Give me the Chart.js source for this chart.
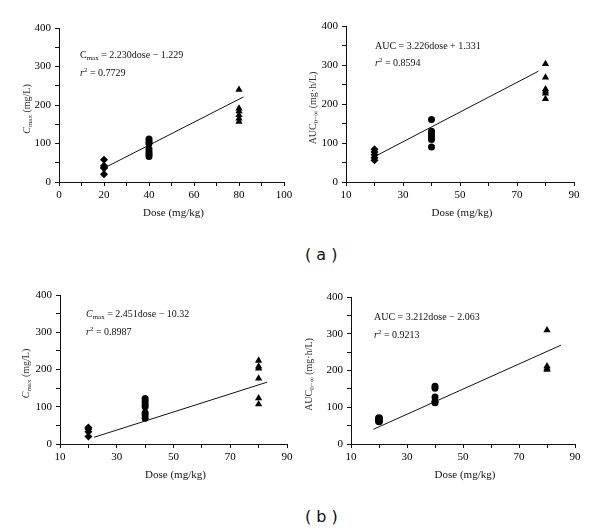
<!DOCTYPE html>
<html>
<head>
<meta charset="utf-8">
<script src="https://cdn.jsdelivr.net/npm/chart.js@4.4.0/dist/chart.umd.min.js"></script>
<style>
  body { margin: 0; background: #fff; }
  #wrap { position: relative; width: 600px; height: 532px; overflow: hidden; background: #fff; }
  canvas { position: absolute; }
  .tag { position: absolute; font: 16px "DejaVu Sans", Verdana, sans-serif; color: #111; line-height: 1; }
</style>
</head>
<body>
<div id="wrap">
  <canvas id="aCmax" width="300" height="235" style="left:0;top:0"></canvas>
  <canvas id="aAuc" width="300" height="235" style="left:300px;top:0"></canvas>
  <canvas id="bCmax" width="300" height="235" style="left:0;top:268px"></canvas>
  <canvas id="bAuc" width="300" height="235" style="left:300px;top:268px"></canvas>
  <div class="tag" style="left:305px;top:247px">( a )</div>
  <div class="tag" style="left:305px;top:509px">( b )</div>
</div>
<script>
const serif = '"Liberation Serif", "Times New Roman", serif';

// (a) Cmax vs dose
const aCmax20 = [58, 42, 38, 36, 20];
const aCmax40 = [112, 106, 100, 86, 78, 72, 66];
const aCmax80 = [240, 191, 184, 174, 165, 157];
const aCmaxFitDose = [20, 82];
const aCmaxFitVal = [36, 221];

// (a) AUC vs dose
const aAuc20 = [84, 77, 70, 62, 56];
const aAuc40 = [160, 130, 123, 116, 109, 90];
const aAuc80 = [303, 268, 238, 232, 227, 213];
const aAucFitDose = [20, 77.5];
const aAucFitVal = [65, 284];

// (b) Cmax vs dose
const bCmax20 = [44, 40, 33, 20];
const bCmax40 = [122, 114, 106, 100, 84, 78, 69];
const bCmax80 = [224, 208, 203, 176, 123, 107];
const bCmaxFitDose = [22, 83];
const bCmaxFitVal = [18, 166];

// (b) AUC vs dose
const bAuc20 = [70, 66, 62];
const bAuc40 = [157, 152, 128, 116, 112];
const bAuc80 = [310, 212, 206, 202];
const bAucFitDose = [18, 85];
const bAucFitVal = [40, 269];

const yTicks = [0, 100, 200, 300, 400];

function pts(dose, vals) {
  return vals.map(v => ({ x: dose, y: v }));
}
function fitPts(xs, ys) {
  return xs.map((x, i) => ({ x: x, y: ys[i] }));
}

function drawRich(ctx, x, y, parts, size, align, rotate, color) {
  const fontFor = k => (k === 'i' ? 'italic ' : '') +
    ((k === 'sub' || k === 'sup') ? Math.round(size * 0.7) : size) + 'px ' + serif;
  let total = 0;
  parts.forEach(p => { ctx.font = fontFor(p[1]); total += ctx.measureText(p[0]).width; });
  ctx.save();
  ctx.translate(x, y);
  if (rotate) ctx.rotate(-Math.PI / 2);
  ctx.fillStyle = color || '#111';
  ctx.textBaseline = 'alphabetic';
  let cx = align === 'center' ? -total / 2 : 0;
  parts.forEach(p => {
    ctx.font = fontFor(p[1]);
    const dy = p[1] === 'sub' ? size * 0.25 : p[1] === 'sup' ? -size * 0.4 : 0;
    ctx.fillText(p[0], cx, dy + size * 0.35);
    cx += ctx.measureText(p[0]).width;
  });
  ctx.restore();
}

function makePanel(id, cfg) {
  const canvas = document.getElementById(id);
  const W = canvas.width, H = canvas.height;
  const area = cfg.area;
  const axisH = 40;

  const dot = (data, style, r) => ({
    data: data, pointStyle: style, pointRadius: r,
    backgroundColor: '#000', borderColor: '#000', borderWidth: 0
  });
  const datasets = [
    dot(pts(20, cfg.g20), cfg.style20 || 'rectRot', 4),
    dot(pts(40, cfg.g40), 'circle', 3.5),
    dot(pts(80, cfg.g80), 'triangle', 4.2),
    {
      data: fitPts(cfg.fitX, cfg.fitY), showLine: true, pointRadius: 0,
      borderColor: '#111', borderWidth: 1, fill: false
    }
  ];

  const textPlugin = {
    id: 'richText',
    afterDraw(chart) {
      const ctx = chart.ctx;
      const ca = chart.chartArea;
      cfg.texts.forEach(t => drawRich(ctx, t.x, t.y, t.parts, t.size, 'left', false));
      drawRich(ctx, cfg.yTitleX, (ca.top + ca.bottom) / 2 + 4, cfg.yTitle, 10, 'center', true, '#333');
      drawRich(ctx, (ca.left + ca.right) / 2 + 2, ca.bottom + 30, [['Dose (mg/kg)', 'n']], 11, 'center', false);
    }
  };

  const axisGrid = { drawOnChartArea: false, drawTicks: true, tickLength: 4, color: '#111', lineWidth: 1 };
  const axisBorder = { display: true, color: '#111', width: 1 };
  const tickFont = { family: serif, size: 11 };

  new Chart(canvas, {
    type: 'scatter',
    data: { datasets: datasets },
    options: {
      responsive: false,
      animation: false,
      layout: { padding: { left: 0, right: W - area.right, top: area.top, bottom: H - area.bottom - axisH } },
      plugins: { legend: { display: false }, tooltip: { enabled: false } },
      scales: {
        x: {
          type: 'linear', min: cfg.xMin, max: cfg.xMax,
          afterFit: s => { s.height = axisH; },
          grid: axisGrid, border: axisBorder,
          ticks: {
            stepSize: 10, autoSkip: false, maxRotation: 0, padding: 3, color: '#000', font: tickFont,
            callback: v => ((v - cfg.xMin) % 20 === 0 ? String(v) : '')
          }
        },
        y: {
          type: 'linear', min: 0, max: 400,
          afterFit: s => { s.width = area.left; },
          grid: axisGrid, border: axisBorder,
          ticks: {
            stepSize: 50, autoSkip: false, padding: 4, color: '#000', font: tickFont,
            callback: v => (yTicks.includes(v) ? String(v) : '')
          }
        }
      }
    },
    plugins: [textPlugin]
  });
}

const cmaxTitle = [['C', 'i'], ['max', 'sub'], [' (mg/L)', 'n']];
const aucTitle = [['AUC', 'n'], ['0\u2212\u221e', 'sub'], [' (mg\u00b7h/L)', 'n']];

makePanel('aCmax', {
  area: { left: 59, right: 284, top: 28, bottom: 182 },
  xMin: 0, xMax: 100,
  g20: aCmax20, g40: aCmax40, g80: aCmax80,
  fitX: aCmaxFitDose, fitY: aCmaxFitVal,
  yTitle: cmaxTitle, yTitleX: 26,
  texts: [
    { x: 80, y: 54, size: 10, parts: [['C', 'n'], ['max', 'sub'], [' = 2.230dose \u2212 1.229', 'n']] },
    { x: 80, y: 72, size: 10, parts: [['r', 'i'], ['2', 'sup'], [' = 0.7729', 'n']] }
  ]
});

makePanel('aAuc', {
  area: { left: 46, right: 274, top: 26, bottom: 182 },
  xMin: 10, xMax: 90,
  g20: aAuc20, g40: aAuc40, g80: aAuc80,
  fitX: aAucFitDose, fitY: aAucFitVal,
  yTitle: aucTitle, yTitleX: 12,
  texts: [
    { x: 75, y: 45, size: 10, parts: [['AUC = 3.226dose + 1.331', 'n']] },
    { x: 75, y: 62, size: 10, parts: [['r', 'i'], ['2', 'sup'], [' = 0.8594', 'n']] }
  ]
});

makePanel('bCmax', {
  area: { left: 60, right: 287, top: 27, bottom: 176 },
  xMin: 10, xMax: 90,
  g20: bCmax20, g40: bCmax40, g80: bCmax80,
  fitX: bCmaxFitDose, fitY: bCmaxFitVal,
  yTitle: cmaxTitle, yTitleX: 25,
  texts: [
    { x: 86, y: 45, size: 10, parts: [['C', 'i'], ['max', 'sub'], [' = 2.451dose \u2212 10.32', 'n']] },
    { x: 86, y: 63, size: 10, parts: [['r', 'i'], ['2', 'sup'], [' = 0.8987', 'n']] }
  ]
});

makePanel('bAuc', {
  area: { left: 51, right: 275, top: 29, bottom: 176 },
  xMin: 10, xMax: 90,
  g20: bAuc20, g40: bAuc40, g80: bAuc80, style20: 'circle',
  fitX: bAucFitDose, fitY: bAucFitVal,
  yTitle: aucTitle, yTitleX: 8,
  texts: [
    { x: 74, y: 48, size: 10, parts: [['AUC = 3.212dose \u2212 2.063', 'n']] },
    { x: 74, y: 66, size: 10, parts: [['r', 'i'], ['2', 'sup'], [' = 0.9213', 'n']] }
  ]
});
</script>
</body>
</html>
